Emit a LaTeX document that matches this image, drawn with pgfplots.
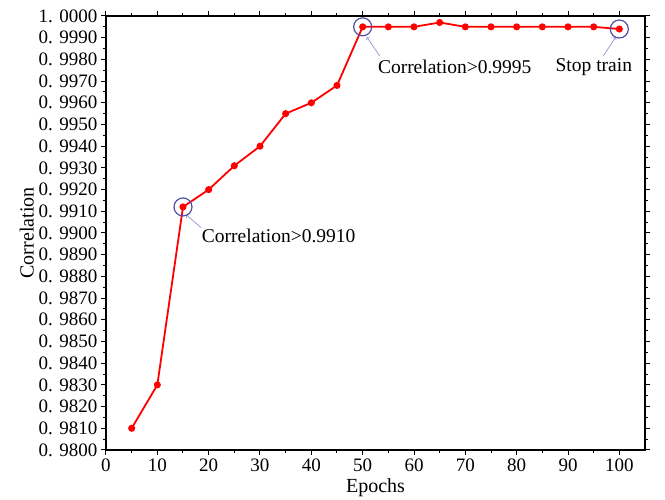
\documentclass[border=0pt]{standalone}
\usepackage{pgfplots}
\pgfplotsset{compat=1.18}
\usepackage{fontspec}
\setmainfont{Liberation Serif}
\begin{document}
\begin{tikzpicture}
\path (-106pt,-50pt) rectangle (559pt,450pt);
\begin{axis}[
  scale only axis,
  width=539pt, height=434pt,
  xmin=0, xmax=105, ymin=0.98, ymax=1.0,
  xtick={0,10,...,100}, minor x tick num=1,
  ytick={0.980,0.981,...,1.0001}, minor y tick num=1,
  tick align=outside,
  major tick length=5pt, minor tick length=3pt,
  axis line style={line width=1.2pt},
  every tick/.style={black, line width=1pt},
  /pgf/number format/assume math mode=true,
  yticklabel={\pgfmathprintnumber[fixed,precision=4,zerofill,dec sep={.\hspace{0.35em}}]{\tick}},
  scaled y ticks=false,
  tick label style={font=\fontsize{19}{22}\selectfont},
  label style={font=\fontsize{20}{23}\selectfont},
  xlabel={Epochs}, ylabel={Correlation},
  xlabel style={yshift=0pt},
  ylabel style={yshift=-2pt},
  clip=false,
]
\addplot[red, line width=1.8pt, mark=*, mark size=2.6pt] coordinates {
  (5,0.9810) (10,0.9830) (15,0.9912) (20,0.9920) (25,0.9931)
  (30,0.9940) (35,0.9955) (40,0.9960) (45,0.9968) (50,0.9995)
  (55,0.9995) (60,0.9995) (65,0.9997) (70,0.9995) (75,0.9995)
  (80,0.9995) (85,0.9995) (90,0.9995) (95,0.9995) (100,0.9994)
};
\addplot[only marks, mark=o, mark size=9pt, color={rgb,255:red,80;green,80;blue,160}, line width=1.2pt] coordinates {
  (15,0.9912) (50,0.9995) (100,0.9994)
};
\draw[->, color={rgb,255:red,150;green,160;blue,210}, line width=0.8pt] (axis cs:18.5,0.99025) -- (axis cs:15.6,0.99085);
\node[anchor=west, font=\fontsize{19.5}{22}\selectfont] at (axis cs:18,0.98985) {Correlation>0.9910};
\draw[->, color={rgb,255:red,150;green,160;blue,210}, line width=0.8pt] (axis cs:53.3,0.99817) -- (axis cs:50.8,0.99903);
\node[anchor=west, font=\fontsize{19.5}{22}\selectfont] at (axis cs:52.3,0.99765) {Correlation>0.9995};
\draw[->, color={rgb,255:red,150;green,160;blue,210}, line width=0.8pt] (axis cs:96.9,0.99817) -- (axis cs:99.3,0.99903);
\node[anchor=west, font=\fontsize{19.5}{22}\selectfont] at (axis cs:86.9,0.99765) {Stop train};
\end{axis}
\end{tikzpicture}
\end{document}
